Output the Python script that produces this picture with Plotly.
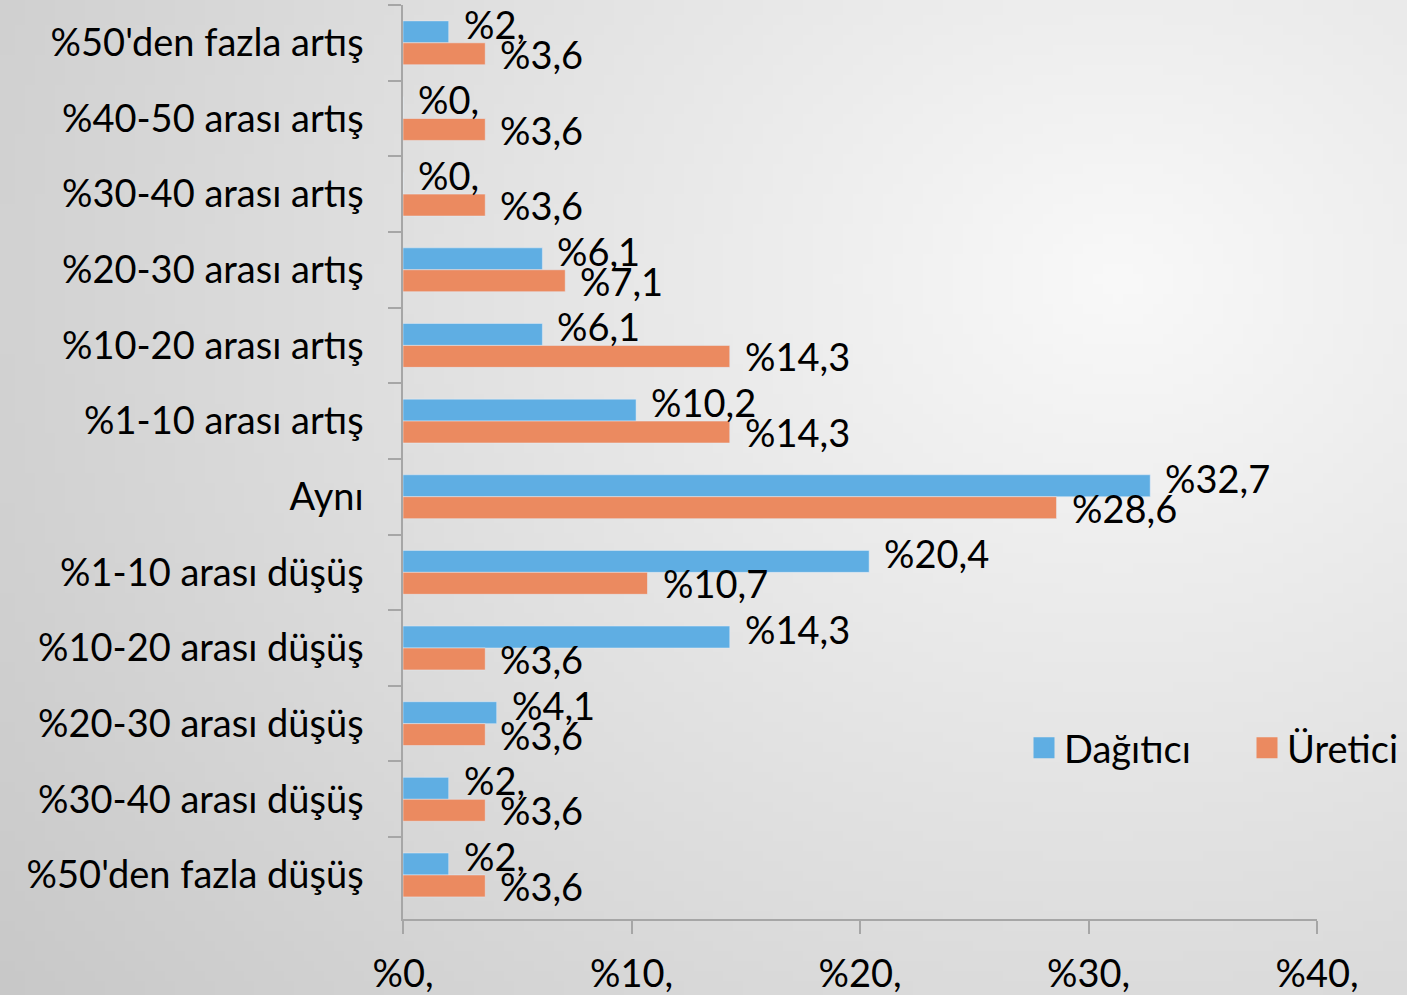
import base64
import struct
import zlib

import numpy as np
import plotly.graph_objects as go

# ---------------- data ----------------
categories = [
    "%50'den fazla artış",
    "%40-50 arası artış",
    "%30-40 arası artış",
    "%20-30 arası artış",
    "%10-20 arası artış",
    "%1-10 arası artış",
    "Aynı",
    "%1-10 arası düşüş",
    "%10-20 arası düşüş",
    "%20-30 arası düşüş",
    "%30-40 arası düşüş",
    "%50'den fazla düşüş",
]
dagitici = [2, 0, 0, 6.1, 6.1, 10.2, 32.7, 20.4, 14.3, 4.1, 2, 2]
uretici = [3.6, 3.6, 3.6, 7.1, 14.3, 14.3, 28.6, 10.7, 3.6, 3.6, 3.6, 3.6]
x_tickvals = [0, 10, 20, 30, 40]
x_ticktext = ["%0,", "%10,", "%20,", "%30,", "%40,"]


def tr_pct(v):
    s = ("%g" % v).replace(".", ",")
    if "," not in s:
        s += ","
    return "%" + s


# ---------------- styling ----------------
W, H = 1407, 995
ML, MR, MT, MB = 403, 90, 5, 76
PW, PH = W - ML - MR, H - MT - MB
FONT = "Lato"
FS = 38
BLUE = "#5FAEE3"
ORANGE = "#EB8A60"
AXIS = "#A6A6A6"


# background radial gradient as an inline PNG
def make_bg_png(w=141, h=100):
    xs = (np.arange(w) + 0.5) * W / w
    ys = (np.arange(h) + 0.5) * H / h
    X, Y = np.meshgrid(xs, ys)
    d = np.sqrt(((X - 1120) * 0.85) ** 2 + (Y - 280) ** 2)
    c = np.clip(249 - 0.041 * d, 190, 250).astype(np.uint8)
    raw = b"".join(b"\x00" + c[r].tobytes() for r in range(h))

    def chunk(t, data):
        return (struct.pack(">I", len(data)) + t + data
                + struct.pack(">I", zlib.crc32(t + data) & 0xFFFFFFFF))

    png = (b"\x89PNG\r\n\x1a\n"
           + chunk(b"IHDR", struct.pack(">IIBBBBB", w, h, 8, 0, 0, 0, 0))
           + chunk(b"IDAT", zlib.compress(raw, 9))
           + chunk(b"IEND", b""))
    return "data:image/png;base64," + base64.b64encode(png).decode()


fig = go.Figure()
fig.add_trace(go.Bar(y=categories, x=dagitici, orientation="h", name="Dağıtıcı",
                     marker=dict(color=BLUE), showlegend=False))
fig.add_trace(go.Bar(y=categories, x=uretici, orientation="h", name="Üretici",
                     marker=dict(color=ORANGE), showlegend=False))

# legend entries (larger squares)
for nm, col in (("Dağıtıcı", BLUE), ("Üretici", ORANGE)):
    fig.add_trace(go.Scatter(x=[None], y=[None], mode="markers", name=nm,
                             marker=dict(symbol="square", size=16, color=col,
                                         line=dict(width=5, color=col))))

# data labels
bar_px = PH / len(categories) * (1 - 0.42) / 2
annos = []
for vals, ysh in ((dagitici, bar_px / 2 + 8), (uretici, -bar_px / 2)):
    for cat, v in zip(categories, vals):
        annos.append(dict(x=v, y=cat, xref="x", yref="y", text=tr_pct(v),
                          showarrow=False, xanchor="left", yanchor="middle",
                          xshift=13, yshift=ysh,
                          font=dict(family=FONT, size=FS, color="black")))

fig.update_layout(
    width=W, height=H,
    margin=dict(l=ML, r=MR, t=MT, b=MB, autoexpand=False),
    barmode="group", bargap=0.42, bargroupgap=0,
    paper_bgcolor="#DCDCDC", plot_bgcolor="rgba(0,0,0,0)",
    font=dict(family=FONT, size=FS, color="black"),
    annotations=annos,
    images=[dict(source=make_bg_png(), xref="paper", yref="paper",
                 x=-ML / PW, y=1 + MT / PH, sizex=W / PW, sizey=H / PH,
                 sizing="stretch", layer="below", xanchor="left", yanchor="top")],
    legend=dict(orientation="h", x=(1024 - ML) / PW, y=(919 - 748) / PH,
                xanchor="left", yanchor="middle", bgcolor="rgba(0,0,0,0)",
                font=dict(family=FONT, size=FS, color="black"),
                entrywidth=178, entrywidthmode="pixels",
                itemclick=False, tracegroupgap=0),
    xaxis=dict(range=[0, 40], tickvals=x_tickvals, ticktext=x_ticktext,
               showgrid=False, zeroline=False, showline=True, linecolor=AXIS,
               linewidth=1.5, ticks="outside", ticklen=13, tickwidth=1.5,
               tickcolor=AXIS, ticklabelstandoff=8,
               tickfont=dict(family=FONT, size=FS, color="black")),
    yaxis=dict(autorange="reversed", showgrid=False, zeroline=False,
               showline=True, linecolor=AXIS, linewidth=1.5, ticks="outside",
               ticklen=13, tickwidth=1.5, tickcolor=AXIS, tickson="boundaries",
               ticklabelstandoff=30,
               tickfont=dict(family=FONT, size=FS, color="black")),
)

fig.write_html("out.html", config={"displayModeBar": False},
               post_script="document.body.style.margin='0';")
